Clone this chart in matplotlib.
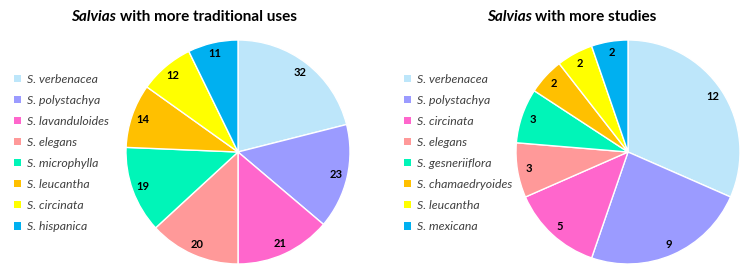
import matplotlib.pyplot as plt
from matplotlib.patches import Patch

# data
trad_names = ['S. verbenacea', 'S. polystachya', 'S. lavanduloides', 'S. elegans',
              'S. microphylla', 'S. leucantha', 'S. circinata', 'S. hispanica']
trad_vals = [32, 23, 21, 20, 19, 14, 12, 11]

study_names = ['S. verbenacea', 'S. polystachya', 'S. circinata', 'S. elegans',
               'S. gesneriiflora', 'S. chamaedryoides', 'S. leucantha', 'S. mexicana']
study_vals = [12, 9, 5, 3, 3, 2, 2, 2]

colors = ['#BDE6FA', '#9B9BFF', '#FF66CC', '#FF9999',
          '#00F5B8', '#FFC000', '#FFFF00', '#00B0F0']

plt.rcParams['font.family'] = ['Lato', 'DejaVu Sans']

W, H = 750, 271
fig = plt.figure(figsize=(7.5, 2.71), dpi=100)


def draw(cx, cy, r, vals, names, leg_x):
    ax = fig.add_axes([(cx - r) / W, (H - cy - r) / H, 2 * r / W, 2 * r / H])
    it = iter(vals)
    ax.pie(vals, colors=colors, startangle=90, counterclock=False,
           autopct=lambda p: str(next(it)), pctdistance=0.9,
           wedgeprops=dict(edgecolor='white', linewidth=1.0),
           textprops=dict(fontsize=8, fontweight='bold', color='black'))
    ax.set_xlim(-1, 1)
    ax.set_ylim(-1, 1)
    handles = [Patch(facecolor=c, edgecolor='none') for c in colors]
    fig.legend(handles, names, loc='upper left', bbox_to_anchor=(leg_x / W, 1 - 74 / H),
               frameon=False, handlelength=0.55, handleheight=0.55,
               handletextpad=0.5, labelspacing=0.82, borderpad=0, borderaxespad=0,
               prop=dict(style='italic', size=8.8), labelcolor='#404040')


def title_parts(cx, cy, word_it, rest):
    # italic word then bold rest, centred at cx
    r = fig.canvas.get_renderer()
    a = fig.text(0, 0, word_it + ' ', fontsize=11, fontweight='bold', style='italic', va='center')
    b = fig.text(0, 0, rest, fontsize=11, fontweight='bold', va='center')
    wa = a.get_window_extent(r).width
    wb = b.get_window_extent(r).width
    x0 = cx - (wa + wb) / 2
    a.set_position((x0 / W, 1 - cy / H))
    b.set_position(((x0 + wa) / W, 1 - cy / H))


draw(238, 152, 112, trad_vals, trad_names, 14)
draw(628, 152, 112, study_vals, study_names, 404)
title_parts(184, 17, 'Salvias', 'with more traditional uses')
title_parts(572, 17, 'Salvias', 'with more studies')

fig.savefig('out.png', dpi=100)
